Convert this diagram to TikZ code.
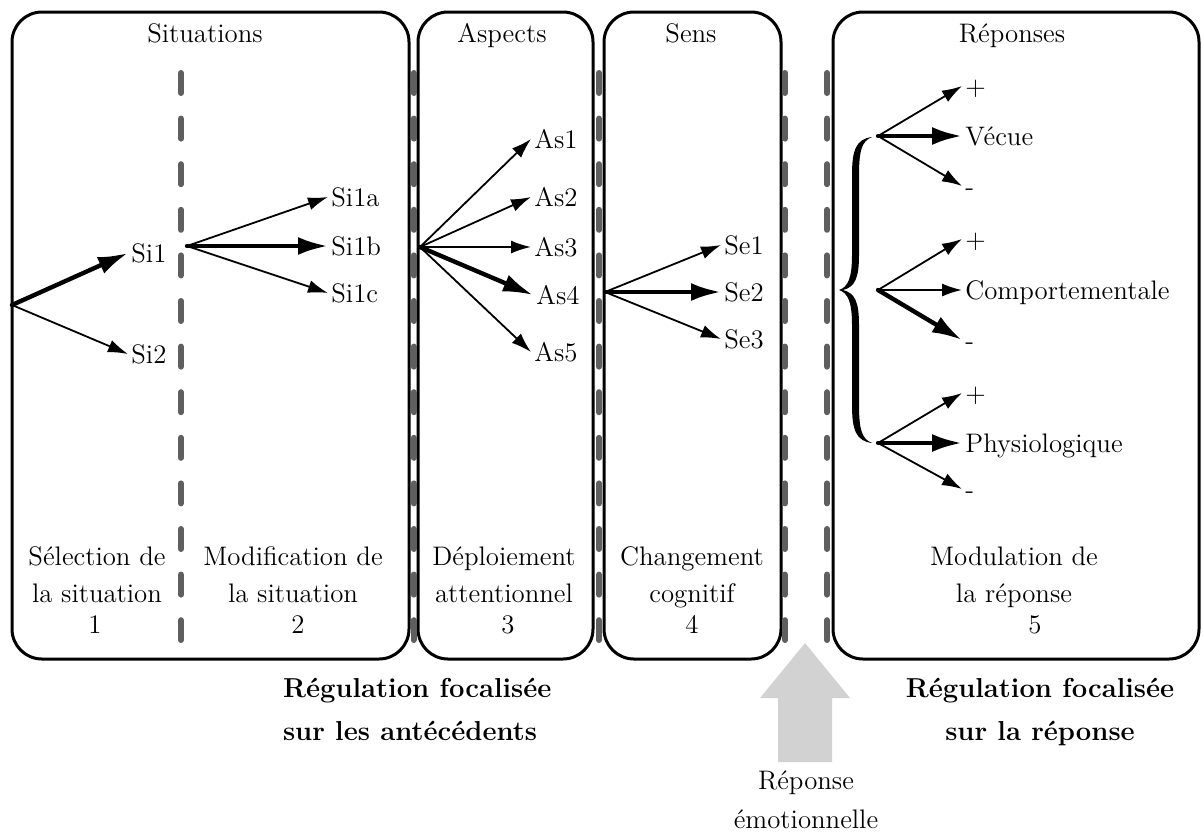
\documentclass[tikz,border=0pt]{standalone}
\usepackage{tikz}
\usetikzlibrary{calc,arrows.meta}
\definecolor{sepgray}{RGB}{95,95,95}
\definecolor{flechegray}{RGB}{210,210,210}

\begin{document}
\begin{tikzpicture}[x=0.5pt,y=-0.5pt,
    font=\fontsize{13.4}{18.5}\selectfont,
    lab/.style={anchor=west,inner sep=1.5pt,text height=9.1pt,text depth=0pt},
    fin/.style={-{Latex[length=10pt,width=6.5pt]},line width=0.9pt,line cap=round},
    gros/.style={-{Latex[length=15pt,width=9pt]},line width=2.2pt,line cap=round},
    sepline/.style={sepgray,line width=3pt,line cap=round,dash pattern=on 10pt off 12.8pt},
    boite/.style={line width=1.5pt,rounded corners=15pt}]
    \useasboundingbox (0,0) rectangle (1203,831);

    % les quatre cadres
    \draw[boite] (12,12) rectangle (409,659);
    \draw[boite] (418,12) rectangle (593,659);
    \draw[boite] (604,12) rectangle (781,659);
    \draw[boite] (833,12) rectangle (1199,659);
    \foreach \x in {181,413.5,599,785,827}
        \draw[sepline] (\x,73) -- (\x,640);

    % titres
    \node[anchor=base] (tsit) at (205,42) {Situations};
    \node[anchor=base] (tasp) at (502,42) {Aspects};
    \node[anchor=base] (tsen) at (691,42) {Sens};
    \node[anchor=base] (trep) at (1012,42) {R\'eponses};

    % situations
    \coordinate (o1) at (12,305);
    \node[lab] (si1) at (128,253) {Si1};
    \node[lab] (si2) at (128,354) {Si2};
    \draw[gros] (o1) -- (si1.west);
    \draw[fin] (o1) -- (si2.west);
    \coordinate (o2) at (187,246);
    \node[lab] (si1a) at (328,197) {Si1a};
    \node[lab] (si1b) at (328,246) {Si1b};
    \node[lab] (si1c) at (328,293) {Si1c};
    \draw[fin] (o2) -- (si1a.west);
    \draw[gros] (o2) -- (si1b.west);
    \draw[fin] (o2) -- (si1c.west);

    % aspects
    \coordinate (o3) at (420,247);
    \node[lab] (as1) at (531,139) {As1};
    \node[lab] (as2) at (531,197) {As2};
    \node[lab] (as3) at (531,247) {As3};
    \node[lab] (as4) at (533,295) {As4};
    \node[lab] (as5) at (531,352) {As5};
    \foreach \n in {as1,as2,as3,as5}
        \draw[fin] (o3) -- (\n.west);
    \draw[gros] (o3) -- (as4.west);

    % sens
    \coordinate (o4) at (605,292);
    \node[lab] (se1) at (721,245) {Se1};
    \node[lab] (se2) at (721,292) {Se2};
    \node[lab] (se3) at (721,339) {Se3};
    \draw[fin] (o4) -- (se1.west);
    \draw[gros] (o4) -- (se2.west);
    \draw[fin] (o4) -- (se3.west);

    % reponses
    \fill (872,137) .. controls (856,139) and (852,150) .. (852,175) -- (852,255)
        .. controls (852,278) and (848,287) .. (839,290)
        .. controls (848,293) and (852,302) .. (852,325) -- (852,405)
        .. controls (852,430) and (856,441) .. (872,443)
        .. controls (862,439) and (859,430) .. (859,405) -- (859,325)
        .. controls (859,302) and (855,293) .. (843,290)
        .. controls (855,287) and (859,278) .. (859,255) -- (859,175)
        .. controls (859,150) and (862,141) .. (872,137) -- cycle;
    \coordinate (g1) at (878,136);
    \coordinate (g2) at (878,290);
    \coordinate (g3) at (878,443);
    \node[lab] (p1) at (962,86) {+};
    \node[lab] (vec) at (962,136) {V\'ecue};
    \node[lab] (m1) at (962,186) {-};
    \node[lab] (p2) at (962,239) {+};
    \node[lab] (com) at (962,290) {Comportementale};
    \node[lab] (m2) at (962,340) {-};
    \node[lab] (p3) at (962,393) {+};
    \node[lab] (phy) at (962,443) {Physiologique};
    \node[lab] (m3) at (962,489) {-};
    \draw[fin] (g1) -- (p1.west);
    \draw[gros] (g1) -- (vec.west);
    \draw[fin] (g1) -- (m1.west);
    \draw[fin] (g2) -- (p2.west);
    \draw[fin] (g2) -- (com.west);
    \draw[gros] (g2) -- (m2.west);
    \draw[fin] (g3) -- (p3.west);
    \draw[gros] (g3) -- (phy.west);
    \draw[fin] (g3) -- (m3.west);

    % bas des cadres
    \node[anchor=base,align=center] (sel) at (97,602) {S\'election de\\la situation};
    \node[anchor=base,align=center] (mod) at (293,602) {Modification de\\la situation};
    \node[anchor=base,align=center] (dep) at (504,602) {D\'eploiement\\attentionnel};
    \node[anchor=base,align=center] (chg) at (692,602) {Changement\\cognitif};
    \node[anchor=base,align=center] (mdl) at (1014,602) {Modulation de\\la r\'eponse};
    \node[anchor=base] (n1) at (95,633) {1};
    \node[anchor=base] (n2) at (298,633) {2};
    \node[anchor=base] (n3) at (508,633) {3};
    \node[anchor=base] (n4) at (692,633) {4};
    \node[anchor=base] (n5) at (1035,633) {5};

    % dessous
    \node[anchor=base west,align=left,font=\fontsize{13.7}{21.5}\selectfont\bfseries] (rant) at (276,740)
        {R\'egulation focalis\'ee\\sur les ant\'ec\'edents};
    \node[anchor=base,align=center,font=\fontsize{13.7}{21.5}\selectfont\bfseries] (rrep) at (1040,740)
        {R\'egulation focalis\'ee\\sur la r\'eponse};
    \fill[flechegray] (778,762) -- (778,698) -- (760,698) -- (805,643) -- (850,698)
        -- (832,698) -- (832,762) -- cycle;
    \node[anchor=base,align=center,font=\fontsize{13.4}{19.5}\selectfont] (emo) at (806,828)
        {R\'eponse\\\'emotionnelle};
\end{tikzpicture}
\end{document}
